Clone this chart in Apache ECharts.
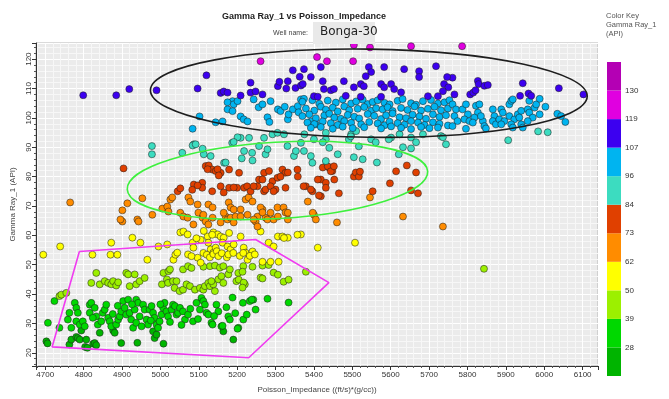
<!DOCTYPE html>
<html>
<head>
<meta charset="utf-8">
<script src="https://cdn.jsdelivr.net/npm/echarts@6/dist/echarts.min.js"></script>
<style>
html, body { margin: 0; padding: 0; background: #fff; }
#chart { width: 669px; height: 399px; }
</style>
</head>
<body>
<div id="chart"></div>
<script>
// color key (Gamma Ray_1, API), bottom to top
var keyBreaks = [28, 39, 50, 62, 73, 84, 96, 107, 119, 130];
var keyColors = ['#00b400', '#00d800', '#9cf000', '#ffff00', '#ff8c00', '#e04000', '#3cdcc0', '#00b4f0', '#3c00f0', '#e000e0', '#b400b4'];

// [Poisson_Impedance, Gamma Ray_1]
var ptsDarkGreen = [
	[4703,23.9],[4706,23.2],[4763,22.8],[4768,24.5],[4781,25.4],[4785,25.0],[4790,24.5],[4794,27.6],[4804,22.0],[4807,24.5],
	[4810,21.7],[4825,23.1],[4829,23.3],[4833,22.6],[4842,26.8],[4877,27.6],[4881,26.8],[4898,23.3],[4940,23.4],[4981,27.3],
	[4985,25.0],[4990,26.2],[5008,23.1],[5164,27.3],[5190,24.5]
];
var ptsGreen = [
	[4707,30.2],[4724,37.6],[4737,28.5],[4759,31.3],[4763,33.6],[4768,28.5],[4777,37.0],[4781,35.3],[4785,33.6],[4781,30.7],
	[4790,29.6],[4798,30.7],[4803,29.0],[4816,33.6],[4816,36.4],[4820,37.0],[4829,35.3],[4833,32.4],[4837,29.6],[4824,31.9],
	[4846,30.7],[4850,33.6],[4855,34.7],[4859,36.4],[4864,31.9],[4868,30.7],[4872,29.0],[4885,29.6],[4890,31.3],[4894,32.4],
	[4898,34.1],[4903,37.6],[4907,35.3],[4911,33.0],[4916,38.1],[4920,33.6],[4924,31.3],[4929,28.5],[4933,34.7],[4937,38.1],
	[4942,37.0],[4946,32.4],[4937,30.2],[4955,36.4],[4959,34.7],[4964,31.3],[4968,29.6],[4972,34.7],[4977,35.9],[4981,33.6],
	[4985,31.9],[4990,29.6],[4994,28.5],[4998,30.7],[5003,33.0],[5007,35.3],[5011,37.0],[5016,34.1],[5020,32.4],[5029,34.7],
	[5033,36.4],[5038,35.9],[5042,33.0],[5046,33.6],[5051,35.3],[5059,34.1],[5064,31.3],[5072,33.0],[5085,30.7],[5094,37.0],
	[5103,34.7],[5107,38.7],[5112,37.6],[5116,36.4],[5120,33.6],[5125,33.0],[5133,30.2],[5146,36.4],[5151,34.1],[5159,29.0],
	[5177,32.4],[5181,31.3],[5203,28.5],[5216,31.3],[5233,37.6],[5242,38.1],[5201,28.2],[5162,29.2],[5136,29.6],[5248,34.7],
	[5334,37.1],[5238,38.1],[5188,38.8],[5279,38.4],[4876,33.2],[4889,36.0],[4926,36.5],[4951,29.0],[4975,31.0],[5000,36.5],
	[5025,30.5],[5055,29.5],[5078,35.0],[5098,31.5],[5140,32.5],[5172,35.5],[5195,33.5],[5225,33.0],[5215,37.0]
];
var ptsYellowGreen = [
	[4737,39.3],[4742,39.8],[4755,40.4],[4833,47.2],[4820,43.8],[4842,43.3],[4855,44.4],[4864,43.8],[4872,43.3],[4877,44.4],
	[4885,42.9],[4890,44.0],[4911,47.2],[4916,46.7],[4933,46.7],[4920,42.7],[4937,43.3],[4946,44.4],[4959,45.5],[5004,43.3],
	[5008,47.2],[5021,47.8],[5017,45.0],[5025,48.4],[5020,43.8],[5033,44.4],[5042,44.4],[5037,42.1],[5050,41.0],[5059,41.5],
	[5059,48.4],[5072,49.5],[5081,48.9],[5068,43.3],[5077,42.7],[5090,41.5],[5103,42.1],[5112,41.5],[5116,42.7],[5125,43.8],
	[5129,42.7],[5138,43.3],[5142,41.0],[5133,44.4],[5129,49.5],[5142,49.7],[5155,49.0],[5164,49.5],[5177,46.7],[5181,48.4],
	[5198,44.4],[5203,47.2],[5216,49.5],[5220,43.3],[5151,45.0],[5164,43.8],[5159,46.1],[5240,49.3],[5266,49.7],[5282,49.9],
	[5295,47.3],[5306,46.6],[5321,44.2],[5334,44.9],[5379,47.6],[5261,45.6],[5266,45.3],[5214,47.6],[5204,44.9],[5217,43.9],
	[5214,42.2],[5843,48.6],[5112,49.3]
];
var ptsYellow = [
	[4695,53.4],[4739,56.2],[4823,53.4],[4872,57.5],[4870,53.4],[4888,53.4],[4927,59.2],[4948,57.5],[4966,51.7],[4995,56.2],
	[5018,56.9],[5034,51.7],[5039,53.4],[5044,54.1],[5052,61.0],[5060,61.3],[5071,60.3],[5084,57.5],[5086,55.8],[5097,52.4],
	[5105,50.7],[5123,59.6],[5125,57.5],[5131,55.2],[5138,54.1],[5144,55.8],[5138,61.0],[5149,60.3],[5157,59.6],[5165,59.2],
	[5162,57.5],[5175,56.2],[5183,55.2],[5191,56.9],[5209,59.6],[5217,55.8],[5222,54.1],[5227,51.7],[5240,54.5],[5266,51.0],
	[5287,51.0],[5308,51.0],[5282,57.5],[5295,56.2],[5306,59.6],[5318,59.6],[5332,59.2],[5366,60.3],[5410,55.8],[5507,57.5],
	[5261,61.3],[5072,53.5],[5081,52.9],[5112,54.0],[5121,53.4],[5129,52.5],[5138,53.6],[5147,54.6],[5151,52.9],[5160,53.9],
	[5173,52.5],[5177,53.5],[5190,54.0],[5207,53.0],[5216,54.0],[5233,53.0],[5246,53.5],[5105,58.5],[5113,61.5],[5094,59.0],
	[5135,60.2],[5179,60.8],[5322,59.1],[5357,60.2]
];
var ptsOrange = [
	[4765,71.2],[4914,70.9],[4953,72.6],[4901,68.5],[4901,64.7],[4896,65.4],[4940,65.4],[4943,64.7],[4979,67.0],[5005,69.1],
	[5018,69.8],[5026,72.2],[5031,72.9],[5021,68.1],[5052,67.7],[5060,66.4],[5073,72.9],[5078,71.5],[5099,67.7],[5110,66.0],
	[5118,64.7],[5097,70.5],[5125,70.5],[5136,69.5],[5157,64.4],[5170,66.4],[5175,65.4],[5183,66.0],[5191,64.4],[5196,66.4],
	[5178,71.2],[5183,69.5],[5191,68.8],[5222,72.2],[5230,72.9],[5240,71.5],[5253,66.4],[5248,64.7],[5266,68.8],[5274,66.0],
	[5279,65.4],[5305,69.5],[5321,69.5],[5326,67.8],[5332,65.4],[5295,65.4],[5384,71.5],[5400,67.0],[5405,65.4],[5209,68.8],
	[5261,69.5],[5266,67.8],[5086,63.7],[5125,63.7],[5165,67.7],[5209,66.4],[5227,67.0],[5243,65.4],[5253,63.0],[5287,67.7],
	[5306,66.4],[5332,67.7],[5397,67.7],[5460,64.4],[5546,72.9],[5632,66.4],[5736,63.0],[5071,66.0],[5136,66.0],[5112,67.0]
];
var ptsRed = [
	[4904,82.8],[5045,75.0],[5052,76.0],[5118,83.6],[5126,83.8],[5135,82.4],[5144,81.9],[5157,81.3],[5179,82.4],[5205,81.3],
	[5087,77.3],[5109,77.9],[5109,76.2],[5135,75.0],[5157,76.7],[5179,76.2],[5200,76.2],[5218,76.2],[5226,76.7],[5235,75.0],
	[5253,76.7],[5257,79.0],[5270,75.0],[5274,75.6],[5270,81.3],[5283,81.9],[5292,78.4],[5300,75.6],[5305,79.6],[5318,82.4],
	[5326,81.3],[5326,76.2],[5357,82.4],[5379,76.7],[5396,75.0],[5418,73.3],[5418,79.0],[5431,77.9],[5431,76.2],[5440,83.0],
	[5448,81.9],[5453,79.0],[5123,82.5],[5149,82.5],[5152,80.4],[5191,76.3],[5243,76.7],[5266,79.0],[5287,76.7],[5295,75.0],
	[5313,80.0],[5332,81.4],[5358,80.0],[5373,76.7],[5410,79.0],[5165,74.6],[5423,83.1],[5436,83.5],[5444,81.8],[5452,83.5],
	[5392,75.6],[5413,73.6],[5504,80.0],[5509,81.4],[5517,80.0],[5520,81.7],[5465,74.3],[5553,75.0],[5598,77.7],[5614,81.8],
	[5642,83.8],[5666,81.4],[5653,75.3],[5671,74.3],[5083,75.5],[5097,77.0]
];
var ptsTurquoise = [
	[4978,90.4],[4978,87.6],[5057,88.1],[5087,91.0],[5113,87.6],[5131,87.0],[5166,84.7],[5187,91.5],[5209,93.2],[5218,88.7],
	[5231,93.2],[5239,88.1],[5257,90.4],[5270,93.2],[5274,87.6],[5279,89.3],[5292,94.4],[5305,94.9],[5322,94.4],[5331,90.4],
	[5348,87.0],[5353,88.7],[5366,91.5],[5374,88.7],[5392,87.0],[5396,84.7],[5400,92.7],[5431,85.3],[5440,89.8],[5431,94.9],
	[5084,90.6],[5092,91.0],[5110,89.5],[5201,93.4],[5191,91.8],[5170,84.8],[5375,94.4],[5431,92.7],[5497,94.4],[5510,95.5],
	[5549,92.7],[5601,93.3],[5623,94.4],[5653,93.3],[5684,94.4],[5731,93.8],[5906,92.4],[5984,95.4],[6009,95.1],[5744,91.0],
	[5736,93.4],[5666,91.7],[5653,89.6],[5632,90.0],[5621,87.6],[5595,92.7],[5561,91.7],[5517,90.3],[5504,86.6],[5527,85.9],
	[5491,92.7],[5496,93.7],[5462,87.6],[5423,91.7],[5564,84.8],[5240,85.5],[5212,86.2]
];
var ptsCyan = [
	// left part of the band
	[5188,105.7],[5175,105.3],[5191,104.6],[5175,102.9],[5188,102.3],[5201,105.7],[5209,100.5],[5217,99.5],[5227,98.8],[5243,106.3],
	[5256,103.6],[5266,104.6],[5279,100.2],[5284,98.6],[5287,105.7],[5306,102.9],[5313,102.3],[5324,103.8],[5332,99.5],[5334,101.2],
	[5345,102.9],[5358,104.0],[5360,101.9],[5366,106.3],[5374,106.5],[5392,98.8],[5405,97.8],[5102,100.5],[5144,98.5],[5162,98.8],
	[5084,96.3],
	// dense middle
	[5370,105.5],[5396,106.0],[5414,104.8],[5436,105.9],[5457,105.2],[5475,106.3],[5497,104.9],[5510,105.6],[5527,106.2],[5540,104.7],
	[5553,105.4],[5566,106.0],[5584,105.1],[5597,104.6],[5618,105.8],[5631,106.4],[5653,105.0],[5666,104.5],[5684,105.7],[5705,106.1],
	[5723,104.9],[5740,105.3],[5753,106.0],
	[5379,103.2],[5401,102.5],[5418,103.8],[5431,102.8],[5449,103.5],[5462,102.2],[5479,103.9],[5492,102.6],[5514,103.1],[5531,103.7],
	[5549,102.4],[5562,103.3],[5579,102.9],[5592,103.6],[5605,102.3],[5627,103.4],[5644,102.7],[5662,103.9],[5679,102.5],[5697,103.1],
	[5714,103.8],[5731,102.6],[5749,103.2],
	[5370,100.6],[5388,101.2],[5405,99.9],[5427,100.8],[5440,101.4],[5453,100.1],[5470,99.7],[5488,101.0],[5505,100.4],[5518,99.8],
	[5540,101.3],[5557,100.7],[5575,99.6],[5588,100.9],[5605,101.5],[5623,100.2],[5640,99.9],[5657,101.1],[5675,100.5],[5692,99.7],
	[5710,101.2],[5727,100.3],[5744,100.9],
	[5383,98.4],[5401,97.9],[5423,98.8],[5444,98.2],[5462,97.6],[5479,98.9],[5497,98.3],[5523,97.8],[5544,98.6],[5566,98.1],
	[5584,97.5],[5597,98.7],[5618,98.2],[5636,97.7],[5653,98.9],[5671,98.4],[5688,97.6],[5710,98.5],[5727,98.0],[5749,97.4],
	[5392,96.6],[5418,96.9],[5449,96.3],[5475,97.0],[5501,96.5],[5531,96.8],[5575,96.4],[5601,97.1],[5627,96.6],[5653,96.2],
	[5679,96.9],[5701,96.5],[5723,96.7],
	// right part
	[5761,104.6],[5770,102.9],[5766,100.6],[5774,98.9],[5761,97.2],[5787,102.9],[5796,104.6],[5801,101.2],[5792,99.5],[5805,98.9],
	[5796,96.3],[5822,104.1],[5827,101.8],[5831,104.6],[5818,100.1],[5814,98.4],[5840,98.9],[5844,97.2],[5848,96.4],[5835,100.6],
	[5866,102.9],[5870,100.6],[5866,98.9],[5874,97.8],[5888,102.9],[5892,101.8],[5883,99.5],[5896,98.9],[5888,97.8],[5909,104.6],
	[5914,105.8],[5918,106.3],[5909,100.6],[5922,99.5],[5914,97.8],[5918,96.7],[5931,101.2],[5940,102.4],[5935,100.1],[5940,97.8],
	[5944,96.7],[5957,102.9],[5961,101.8],[5970,100.1],[5957,98.9],[5975,103.5],[5979,104.6],[5988,101.2],[5988,106.5],[6003,103.8],
	[6034,101.4],[6044,100.6],[6055,98.6],[5961,105.8]
];
var ptsPurple = [
	[4799,107.7],[4885,107.7],[4919,109.8],[4990,109.4],[5097,110.0],[5120,114.5],
	[5157,108.5],[5165,109.0],[5175,108.6],[5209,107.6],[5235,112.0],[5235,108.6],[5248,109.0],[5266,108.0],[5306,110.8],[5310,112.3],
	[5332,112.5],[5345,116.2],[5328,110.0],[5352,110.2],[5363,114.0],[5366,111.0],
	[5374,116.6],[5418,117.3],[5371,111.5],[5392,113.9],[5423,112.5],[5426,109.8],[5444,109.4],[5452,109.8],[5400,107.4],[5410,107.2],
	[5478,112.5],[5504,110.4],[5522,111.5],[5530,110.8],[5543,117.3],[5549,115.6],[5535,114.2],[5583,117.3],[5575,111.5],[5583,110.4],
	[5601,111.5],[5635,116.6],[5627,108.7],[5674,115.9],[5674,113.9],[5718,117.6],[5697,107.4],[5723,107.4],[5739,111.5],[5750,110.4],
	[5736,109.1],[5575,107.2],[5609,109.8],[5522,107.2],[5483,107.5],
	[5761,113.7],[5766,108.0],[5827,112.6],[5829,111.5],[5844,110.9],[5853,111.2],[5807,108.0],[5815,108.6],[5821,109.4],[5944,111.8],
	[5937,107.5],[5959,108.3],[5966,107.5],[6038,110.1],[6102,108.0],[5747,113.9]
];
var ptsMagenta = [
	[5261,119.3],[5408,120.7],[5434,119.3],[5502,119.3],[5504,124.8],[5546,124.0],[5653,124.4],[5786,124.4]
];

// hand drawn marks: [centerX, centerY, radiusX, radiusY, rotation]
var ellipseBlack = [5543, 108.4, 569, 15.0, -0.014];
var ellipseGreen = [5305, 78.7, 392, 13.0, 0.06];
var polygonMagenta = [[4789,54.5],[5248,58.6],[5439,43.9],[5230,18.3],[4718,22.0]];

var chart = echarts.init(document.getElementById('chart'));

var allPts = [].concat(ptsDarkGreen, ptsGreen, ptsYellowGreen, ptsYellow, ptsOrange, ptsRed, ptsTurquoise, ptsCyan, ptsPurple, ptsMagenta);

var pieces = [];
for (var i = 0; i <= keyBreaks.length; i++) {
	var pc = { color: keyColors[i] };
	if (i > 0) pc.gte = keyBreaks[i - 1];
	if (i < keyBreaks.length) pc.lt = keyBreaks[i];
	pieces.push(pc);
}

var fontName = '"Liberation Sans", Arial, sans-serif';

function ellipseRenderer(stroke) {
	return function(params, api) {
		var c = api.coord([api.value(0), api.value(1)]);
		var s = api.size([api.value(2), api.value(3)], [api.value(0), api.value(1)]);
		return {
			type: 'ellipse',
			x: c[0],
			y: c[1],
			rotation: api.value(4),
			shape: { cx: 0, cy: 0, rx: s[0], ry: s[1] },
			style: { fill: null, stroke: stroke, lineWidth: 1.6 }
		};
	};
}

var series = [{
	type: 'scatter',
	data: allPts,
	symbolSize: 7,
	itemStyle: { borderColor: 'rgba(30,30,30,0.75)', borderWidth: 0.7, opacity: 1 },
	z: 2
}, {
	type: 'custom',
	data: [ellipseBlack],
	encode: { x: 0, y: 1 },
	renderItem: ellipseRenderer('#1e1e1e'),
	silent: true,
	z: 5
}, {
	type: 'custom',
	data: [ellipseGreen],
	encode: { x: 0, y: 1 },
	renderItem: ellipseRenderer('#3ef03e'),
	silent: true,
	z: 5
}, {
	type: 'line',
	data: polygonMagenta.concat([polygonMagenta[0]]),
	symbol: 'none',
	lineStyle: { color: '#f03cf0', width: 1.6 },
	silent: true,
	z: 5
}];

// stacked bars make the colour key
for (var k = 0; k < keyColors.length; k++) {
	series.push({
		type: 'bar',
		xAxisIndex: 1,
		yAxisIndex: 1,
		stack: 'key',
		data: [1],
		barWidth: '100%',
		itemStyle: { color: keyColors[k] },
		silent: true
	});
}

var option = {
	animation: false,
	backgroundColor: '#ffffff',
	visualMap: {
		show: false,
		type: 'piecewise',
		seriesIndex: 0,
		dimension: 1,
		pieces: pieces
	},
	grid: [{
		left: 36, top: 43, right: 71, bottom: 33,
		show: true,
		backgroundColor: '#ebebeb',
		borderColor: '#b4b4b4',
		borderWidth: 1
	}, {
		left: 607, top: 62, width: 14, height: 314
	}],
	xAxis: [{
		type: 'value',
		min: 4676,
		max: 6140,
		minInterval: 100,
		maxInterval: 100,
		name: 'Poisson_Impedance ((ft/s)*(g/cc))',
		nameLocation: 'middle',
		nameGap: 20,
		nameTextStyle: { fontSize: 8, color: '#444', fontFamily: fontName },
		axisLine: { show: true, onZero: false, lineStyle: { color: '#333' } },
		axisTick: { show: true, length: 4, lineStyle: { color: '#333' } },
		minorTick: { show: true, splitNumber: 5, length: 2, lineStyle: { color: '#555' } },
		splitLine: { show: true, lineStyle: { color: '#ffffff', width: 1 } },
		minorSplitLine: { show: true, lineStyle: { color: '#f7f7f7', width: 1 } },
		axisLabel: {
			fontSize: 8, color: '#333', margin: 5, fontFamily: fontName,
			showMinLabel: false, showMaxLabel: false,
			formatter: function(v) { return String(v); }
		}
	}, {
		type: 'category',
		gridIndex: 1,
		data: [''],
		show: false
	}],
	yAxis: [{
		type: 'value',
		min: 15.5,
		max: 125.5,
		minInterval: 10,
		maxInterval: 10,
		name: 'Gamma Ray_1 (API)',
		nameLocation: 'middle',
		nameGap: 17,
		nameTextStyle: { fontSize: 8, color: '#444', fontFamily: fontName },
		axisLine: { show: true, lineStyle: { color: '#333' } },
		axisTick: { show: true, length: 4, lineStyle: { color: '#333' } },
		minorTick: { show: true, splitNumber: 5, length: 2, lineStyle: { color: '#555' } },
		splitLine: { show: true, lineStyle: { color: '#ffffff', width: 1 } },
		minorSplitLine: { show: true, lineStyle: { color: '#f7f7f7', width: 1 } },
		axisLabel: { fontSize: 8, color: '#333', margin: 3, rotate: 90, fontFamily: fontName, showMinLabel: false, showMaxLabel: false }
	}, {
		type: 'value',
		gridIndex: 1,
		min: 0,
		max: 11,
		interval: 1,
		position: 'right',
		axisLine: { show: false },
		axisTick: { show: false },
		splitLine: { show: false },
		axisLabel: {
			fontSize: 8, color: '#333', margin: 4, fontFamily: fontName,
			formatter: function(v) {
				return (v >= 1 && v <= keyBreaks.length) ? String(keyBreaks[v - 1]) : '';
			}
		}
	}],
	graphic: [{
		type: 'text', left: 222, top: 12,
		style: { text: 'Gamma Ray_1 vs Poisson_Impedance', font: 'bold 9px ' + fontName, fill: '#222' }
	}, {
		type: 'text', right: 361, top: 30,
		style: { text: 'Well name:', font: '7px ' + fontName, fill: '#444' }
	}, {
		type: 'rect', left: 313, top: 22, z: 10,
		shape: { width: 62, height: 22 },
		style: { fill: '#e9e9e9' }
	}, {
		type: 'text', left: 320, top: 26, z: 11,
		style: { text: 'Bonga-30', font: '12px "DejaVu Sans", sans-serif', fill: '#222' }
	}, {
		type: 'text', left: 606, top: 11,
		style: { text: 'Color Key\nGamma Ray_1\n(API)', font: '7.5px ' + fontName, fill: '#555', lineHeight: 9 }
	}],
	series: series
};

chart.setOption(option);
</script>
</body>
</html>
